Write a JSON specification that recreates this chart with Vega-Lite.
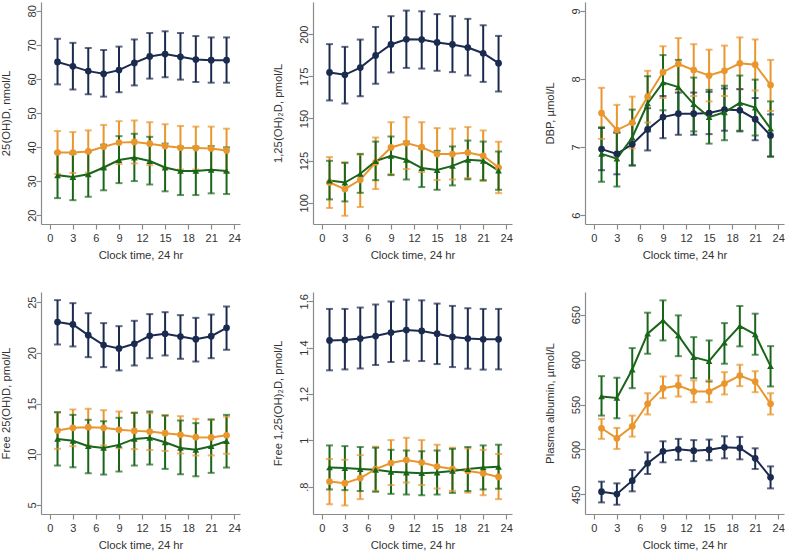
{
"$schema": "https://vega.github.io/schema/vega-lite/v6.json",
"padding": {"left": 0, "top": 2, "right": 0, "bottom": 0},
"columns": 3,
"spacing": {"row": 31, "column": 31},
"config": {
 "font": "Liberation Sans",
 "view": {"stroke": null},
 "axis": {"grid": false, "domainColor": "#8a8a8a", "tickColor": "#8a8a8a", "tickSize": 5, "labelColor": "#333333", "titleColor": "#333333", "labelFontSize": 11, "titleFontSize": 11.3, "titleFontWeight": "normal", "domainWidth": 1.2, "tickWidth": 1.2, "labelOverlap": false, "labelFlush": false},
 "axisY": {"labelAngle": -90, "labelAlign": "center", "labelBaseline": "alphabetic", "labelPadding": 1, "minExtent": 20, "maxExtent": 20, "titlePadding": 10},
 "axisX": {"labelPadding": 3, "titlePadding": 6}
},
"datasets": {
 "p1": [
  {"t":1,"g":"A","v":65.0,"lo":58.4,"hi":71.8},{"t":3,"g":"A","v":63.7,"lo":56.9,"hi":70.6},{"t":5,"g":"A","v":62.3,"lo":55.5,"hi":69.1},{"t":7,"g":"A","v":61.5,"lo":54.8,"hi":68.5},{"t":9,"g":"A","v":62.6,"lo":56.1,"hi":69.5},{"t":11,"g":"A","v":64.7,"lo":58.1,"hi":71.6},{"t":13,"g":"A","v":66.6,"lo":60.1,"hi":73.5},{"t":15,"g":"A","v":67.3,"lo":60.5,"hi":74.0},{"t":17,"g":"A","v":66.5,"lo":59.8,"hi":73.5},{"t":19,"g":"A","v":65.7,"lo":59.1,"hi":72.6},{"t":21,"g":"A","v":65.5,"lo":58.9,"hi":72.2},{"t":23,"g":"A","v":65.5,"lo":58.9,"hi":72.2},
  {"t":1,"g":"B","v":38.4,"lo":32.1,"hi":44.7},{"t":3,"g":"B","v":38.4,"lo":32.4,"hi":44.4},{"t":5,"g":"B","v":38.7,"lo":32.5,"hi":44.9},{"t":7,"g":"B","v":40.1,"lo":33.7,"hi":46.5},{"t":9,"g":"B","v":41.3,"lo":35.0,"hi":47.6},{"t":11,"g":"B","v":41.5,"lo":35.2,"hi":47.8},{"t":13,"g":"B","v":41.0,"lo":34.7,"hi":47.3},{"t":15,"g":"B","v":40.3,"lo":33.9,"hi":46.7},{"t":17,"g":"B","v":39.8,"lo":33.4,"hi":46.2},{"t":19,"g":"B","v":39.7,"lo":33.4,"hi":46.0},{"t":21,"g":"B","v":39.6,"lo":33.2,"hi":46.0},{"t":23,"g":"B","v":39.0,"lo":32.6,"hi":45.4},
  {"t":1,"g":"C","v":31.7,"lo":25.0,"hi":38.4},{"t":3,"g":"C","v":31.2,"lo":24.4,"hi":38.0},{"t":5,"g":"C","v":32.0,"lo":25.4,"hi":38.6},{"t":7,"g":"C","v":34.0,"lo":27.3,"hi":40.7},{"t":9,"g":"C","v":36.2,"lo":29.4,"hi":43.2},{"t":11,"g":"C","v":36.9,"lo":30.0,"hi":43.9},{"t":13,"g":"C","v":35.9,"lo":29.0,"hi":43.0},{"t":15,"g":"C","v":34.0,"lo":27.0,"hi":41.0},{"t":17,"g":"C","v":33.0,"lo":25.9,"hi":40.1},{"t":19,"g":"C","v":33.0,"lo":25.9,"hi":40.1},{"t":21,"g":"C","v":33.3,"lo":26.4,"hi":40.3},{"t":23,"g":"C","v":33.0,"lo":26.2,"hi":39.9}
 ],
 "p2": [
  {"t":1,"g":"A","v":177.3,"lo":160.7,"hi":194.1},{"t":3,"g":"A","v":175.9,"lo":158.9,"hi":192.5},{"t":5,"g":"A","v":180.2,"lo":163.2,"hi":196.8},{"t":7,"g":"A","v":187.4,"lo":170.6,"hi":204.3},{"t":9,"g":"A","v":193.9,"lo":177.3,"hi":210.7},{"t":11,"g":"A","v":197.0,"lo":180.0,"hi":214.0},{"t":13,"g":"A","v":196.8,"lo":179.6,"hi":213.6},{"t":15,"g":"A","v":195.1,"lo":178.3,"hi":211.9},{"t":17,"g":"A","v":193.9,"lo":177.5,"hi":210.7},{"t":19,"g":"A","v":192.1,"lo":175.5,"hi":209.1},{"t":21,"g":"A","v":188.7,"lo":171.7,"hi":205.3},{"t":23,"g":"A","v":182.8,"lo":166.0,"hi":199.0},
  {"t":1,"g":"B","v":112.0,"lo":96.9,"hi":127.1},{"t":3,"g":"B","v":108.1,"lo":92.3,"hi":123.9},{"t":5,"g":"B","v":113.6,"lo":97.5,"hi":128.5},{"t":7,"g":"B","v":123.9,"lo":108.1,"hi":138.7},{"t":9,"g":"B","v":132.8,"lo":117.0,"hi":147.8},{"t":11,"g":"B","v":135.4,"lo":120.0,"hi":150.8},{"t":13,"g":"B","v":133.0,"lo":118.2,"hi":147.8},{"t":15,"g":"B","v":128.9,"lo":113.5,"hi":144.3},{"t":17,"g":"B","v":128.9,"lo":113.8,"hi":144.0},{"t":19,"g":"B","v":129.8,"lo":114.7,"hi":144.9},{"t":21,"g":"B","v":127.9,"lo":112.9,"hi":142.9},{"t":23,"g":"B","v":120.9,"lo":105.7,"hi":136.2},
  {"t":1,"g":"C","v":113.2,"lo":102.0,"hi":124.9},{"t":3,"g":"C","v":112.0,"lo":100.8,"hi":123.7},{"t":5,"g":"C","v":117.2,"lo":105.9,"hi":129.0},{"t":7,"g":"C","v":124.7,"lo":113.4,"hi":136.3},{"t":9,"g":"C","v":127.9,"lo":116.4,"hi":139.3},{"t":11,"g":"C","v":125.5,"lo":113.8,"hi":136.3},{"t":13,"g":"C","v":120.6,"lo":109.3,"hi":132.2},{"t":15,"g":"C","v":119.4,"lo":107.7,"hi":130.8},{"t":17,"g":"C","v":121.9,"lo":110.3,"hi":133.4},{"t":19,"g":"C","v":125.5,"lo":113.9,"hi":136.9},{"t":21,"g":"C","v":124.9,"lo":113.4,"hi":136.3},{"t":23,"g":"C","v":119.1,"lo":107.7,"hi":130.4}
 ],
 "p3": [
  {"t":1,"g":"A","v":6.97,"lo":6.66,"hi":7.28},{"t":3,"g":"A","v":6.90,"lo":6.60,"hi":7.21},{"t":5,"g":"A","v":7.04,"lo":6.73,"hi":7.35},{"t":7,"g":"A","v":7.26,"lo":6.95,"hi":7.57},{"t":9,"g":"A","v":7.44,"lo":7.13,"hi":7.75},{"t":11,"g":"A","v":7.49,"lo":7.18,"hi":7.80},{"t":13,"g":"A","v":7.49,"lo":7.18,"hi":7.80},{"t":15,"g":"A","v":7.50,"lo":7.19,"hi":7.81},{"t":17,"g":"A","v":7.55,"lo":7.24,"hi":7.86},{"t":19,"g":"A","v":7.54,"lo":7.23,"hi":7.85},{"t":21,"g":"A","v":7.41,"lo":7.10,"hi":7.72},{"t":23,"g":"A","v":7.17,"lo":6.86,"hi":7.48},
  {"t":1,"g":"B","v":7.50,"lo":7.12,"hi":7.87},{"t":3,"g":"B","v":7.25,"lo":6.88,"hi":7.62},{"t":5,"g":"B","v":7.36,"lo":6.98,"hi":7.74},{"t":7,"g":"B","v":7.74,"lo":7.36,"hi":8.12},{"t":9,"g":"B","v":8.10,"lo":7.72,"hi":8.48},{"t":11,"g":"B","v":8.22,"lo":7.84,"hi":8.60},{"t":13,"g":"B","v":8.13,"lo":7.75,"hi":8.51},{"t":15,"g":"B","v":8.05,"lo":7.67,"hi":8.43},{"t":17,"g":"B","v":8.12,"lo":7.75,"hi":8.49},{"t":19,"g":"B","v":8.23,"lo":7.85,"hi":8.61},{"t":21,"g":"B","v":8.21,"lo":7.83,"hi":8.58},{"t":23,"g":"B","v":7.91,"lo":7.53,"hi":8.28},
  {"t":1,"g":"C","v":6.90,"lo":6.49,"hi":7.29},{"t":3,"g":"C","v":6.83,"lo":6.42,"hi":7.22},{"t":5,"g":"C","v":7.14,"lo":6.73,"hi":7.55},{"t":7,"g":"C","v":7.64,"lo":7.23,"hi":8.04},{"t":9,"g":"C","v":7.95,"lo":7.54,"hi":8.35},{"t":11,"g":"C","v":7.88,"lo":7.48,"hi":8.28},{"t":13,"g":"C","v":7.63,"lo":7.23,"hi":8.02},{"t":15,"g":"C","v":7.44,"lo":7.05,"hi":7.84},{"t":17,"g":"C","v":7.51,"lo":7.10,"hi":7.90},{"t":19,"g":"C","v":7.65,"lo":7.24,"hi":8.05},{"t":21,"g":"C","v":7.58,"lo":7.17,"hi":7.99},{"t":23,"g":"C","v":7.27,"lo":6.86,"hi":7.67}
 ],
 "p4": [
  {"t":1,"g":"A","v":23.03,"lo":20.82,"hi":25.20},{"t":3,"g":"A","v":22.80,"lo":20.63,"hi":24.90},{"t":5,"g":"A","v":21.74,"lo":19.57,"hi":23.91},{"t":7,"g":"A","v":20.76,"lo":18.59,"hi":22.93},{"t":9,"g":"A","v":20.43,"lo":18.26,"hi":22.63},{"t":11,"g":"A","v":20.89,"lo":18.75,"hi":23.16},{"t":13,"g":"A","v":21.68,"lo":19.47,"hi":23.82},{"t":15,"g":"A","v":21.88,"lo":19.74,"hi":24.01},{"t":17,"g":"A","v":21.61,"lo":19.41,"hi":23.72},{"t":19,"g":"A","v":21.35,"lo":19.14,"hi":23.45},{"t":21,"g":"A","v":21.64,"lo":19.47,"hi":23.78},{"t":23,"g":"A","v":22.47,"lo":20.30,"hi":24.57},
  {"t":1,"g":"B","v":12.33,"lo":10.53,"hi":14.13},{"t":3,"g":"B","v":12.60,"lo":10.79,"hi":14.41},{"t":5,"g":"B","v":12.66,"lo":10.85,"hi":14.48},{"t":7,"g":"B","v":12.60,"lo":10.86,"hi":14.34},{"t":9,"g":"B","v":12.40,"lo":10.59,"hi":14.21},{"t":11,"g":"B","v":12.30,"lo":10.50,"hi":14.10},{"t":13,"g":"B","v":12.23,"lo":10.41,"hi":14.05},{"t":15,"g":"B","v":12.07,"lo":10.32,"hi":13.82},{"t":17,"g":"B","v":11.91,"lo":10.07,"hi":13.75},{"t":19,"g":"B","v":11.68,"lo":9.87,"hi":13.49},{"t":21,"g":"B","v":11.65,"lo":9.88,"hi":13.42},{"t":23,"g":"B","v":11.87,"lo":10.04,"hi":13.70},
  {"t":1,"g":"C","v":11.51,"lo":8.88,"hi":14.14},{"t":3,"g":"C","v":11.32,"lo":8.71,"hi":13.88},{"t":5,"g":"C","v":10.79,"lo":8.12,"hi":13.39},{"t":7,"g":"C","v":10.62,"lo":7.99,"hi":13.25},{"t":9,"g":"C","v":10.92,"lo":8.29,"hi":13.59},{"t":11,"g":"C","v":11.51,"lo":8.88,"hi":14.08},{"t":13,"g":"C","v":11.61,"lo":8.98,"hi":14.21},{"t":15,"g":"C","v":11.18,"lo":8.55,"hi":13.82},{"t":17,"g":"C","v":10.62,"lo":8.02,"hi":13.32},{"t":19,"g":"C","v":10.43,"lo":7.82,"hi":13.06},{"t":21,"g":"C","v":10.79,"lo":8.16,"hi":13.42},{"t":23,"g":"C","v":11.28,"lo":8.68,"hi":13.88}
 ],
 "p5": [
  {"t":1,"g":"A","v":1.431,"lo":1.302,"hi":1.567},{"t":3,"g":"A","v":1.433,"lo":1.306,"hi":1.567},{"t":5,"g":"A","v":1.439,"lo":1.310,"hi":1.573},{"t":7,"g":"A","v":1.450,"lo":1.325,"hi":1.586},{"t":9,"g":"A","v":1.465,"lo":1.338,"hi":1.599},{"t":11,"g":"A","v":1.476,"lo":1.343,"hi":1.607},{"t":13,"g":"A","v":1.472,"lo":1.342,"hi":1.604},{"t":15,"g":"A","v":1.460,"lo":1.329,"hi":1.590},{"t":17,"g":"A","v":1.446,"lo":1.316,"hi":1.580},{"t":19,"g":"A","v":1.439,"lo":1.309,"hi":1.570},{"t":21,"g":"A","v":1.436,"lo":1.305,"hi":1.567},{"t":23,"g":"A","v":1.436,"lo":1.306,"hi":1.567},
  {"t":1,"g":"B","v":0.822,"lo":0.724,"hi":0.919},{"t":3,"g":"B","v":0.815,"lo":0.719,"hi":0.916},{"t":5,"g":"B","v":0.837,"lo":0.746,"hi":0.936},{"t":7,"g":"B","v":0.876,"lo":0.782,"hi":0.972},{"t":9,"g":"B","v":0.902,"lo":0.807,"hi":1.001},{"t":11,"g":"B","v":0.915,"lo":0.818,"hi":1.011},{"t":13,"g":"B","v":0.904,"lo":0.807,"hi":1.001},{"t":15,"g":"B","v":0.887,"lo":0.792,"hi":0.981},{"t":17,"g":"B","v":0.876,"lo":0.782,"hi":0.968},{"t":19,"g":"B","v":0.868,"lo":0.774,"hi":0.965},{"t":21,"g":"B","v":0.858,"lo":0.763,"hi":0.959},{"t":23,"g":"B","v":0.842,"lo":0.746,"hi":0.941},
  {"t":1,"g":"C","v":0.883,"lo":0.788,"hi":0.978},{"t":3,"g":"C","v":0.880,"lo":0.785,"hi":0.975},{"t":5,"g":"C","v":0.876,"lo":0.781,"hi":0.971},{"t":7,"g":"C","v":0.873,"lo":0.778,"hi":0.968},{"t":9,"g":"C","v":0.864,"lo":0.769,"hi":0.959},{"t":11,"g":"C","v":0.861,"lo":0.766,"hi":0.956},{"t":13,"g":"C","v":0.858,"lo":0.763,"hi":0.953},{"t":15,"g":"C","v":0.861,"lo":0.766,"hi":0.956},{"t":17,"g":"C","v":0.868,"lo":0.773,"hi":0.963},{"t":19,"g":"C","v":0.876,"lo":0.781,"hi":0.971},{"t":21,"g":"C","v":0.883,"lo":0.788,"hi":0.978},{"t":23,"g":"C","v":0.886,"lo":0.791,"hi":0.981}
 ],
 "p6": [
  {"t":1,"g":"A","v":453.0,"lo":441.1,"hi":464.2},{"t":3,"g":"A","v":450.4,"lo":438.5,"hi":462.3},{"t":5,"g":"A","v":465.3,"lo":453.4,"hi":477.2},{"t":7,"g":"A","v":484.6,"lo":472.7,"hi":496.8},{"t":9,"g":"A","v":497.9,"lo":485.7,"hi":509.1},{"t":11,"g":"A","v":500.2,"lo":488.4,"hi":511.8},{"t":13,"g":"A","v":498.7,"lo":487.0,"hi":510.4},{"t":15,"g":"A","v":499.8,"lo":488.0,"hi":511.0},{"t":17,"g":"A","v":502.4,"lo":490.1,"hi":514.7},{"t":19,"g":"A","v":501.7,"lo":489.0,"hi":514.0},{"t":21,"g":"A","v":490.1,"lo":478.3,"hi":501.3},{"t":23,"g":"A","v":469.0,"lo":456.7,"hi":481.2},
  {"t":1,"g":"B","v":523.6,"lo":511.8,"hi":534.1},{"t":3,"g":"B","v":512.4,"lo":500.6,"hi":524.0},{"t":5,"g":"B","v":525.8,"lo":514.3,"hi":537.7},{"t":7,"g":"B","v":550.8,"lo":538.9,"hi":562.6},{"t":9,"g":"B","v":568.2,"lo":557.0,"hi":581.2},{"t":11,"g":"B","v":571.2,"lo":558.9,"hi":582.3},{"t":13,"g":"B","v":564.5,"lo":552.6,"hi":576.8},{"t":15,"g":"B","v":564.5,"lo":552.6,"hi":576.8},{"t":17,"g":"B","v":573.4,"lo":561.2,"hi":586.0},{"t":19,"g":"B","v":582.3,"lo":570.4,"hi":594.3},{"t":21,"g":"B","v":575.6,"lo":563.7,"hi":587.1},{"t":23,"g":"B","v":550.8,"lo":538.9,"hi":562.6},
  {"t":1,"g":"C","v":559.0,"lo":537.7,"hi":581.6},{"t":3,"g":"C","v":557.4,"lo":534.7,"hi":579.8},{"t":5,"g":"C","v":589.0,"lo":568.2,"hi":612.8},{"t":7,"g":"C","v":628.8,"lo":606.5,"hi":652.2},{"t":9,"g":"C","v":643.6,"lo":621.3,"hi":665.9},{"t":11,"g":"C","v":626.9,"lo":603.8,"hi":649.2},{"t":13,"g":"C","v":602.7,"lo":579.3,"hi":625.0},{"t":15,"g":"C","v":598.3,"lo":575.6,"hi":621.3},{"t":17,"g":"C","v":618.8,"lo":595.4,"hi":640.6},{"t":19,"g":"C","v":637.3,"lo":614.7,"hi":659.6},{"t":21,"g":"C","v":628.0,"lo":605.4,"hi":651.1},{"t":23,"g":"C","v":592.7,"lo":570.1,"hi":615.0}
 ]
},
"concat": [
 {"width":199,"height":222,"data":{"name":"p1"},
  "encoding":{"x":{"field":"t","type":"quantitative","scale":{"domain":[-1.15,24.75],"nice":false,"zero":false},"axis":{"values":[0,3,6,9,12,15,18,21,24],"title":"Clock time, 24 hr"}},
   "y":{"field":"v","type":"quantitative","scale":{"domain":[17.4,82.6],"nice":false,"zero":false},"axis":{"values":[20,30,40,50,60,70,80],"format":"d","labelOverlap":false,"title":"25(OH)D, nmol/L"}},
   "color":{"field":"g","type":"nominal","scale":{"domain":["A","B","C"],"range":["#1b2a4f","#e8962d","#19661b"]},"legend":null}},
  "layer":[
   {"mark":{"type":"rule","strokeWidth":2},"encoding":{"y":{"field":"lo","type":"quantitative","axis":{"values":[20,30,40,50,60,70,80],"format":"d","labelOverlap":false,"title":"25(OH)D, nmol/L"}},"y2":{"field":"hi"}}},
   {"mark":{"type":"tick","orient":"horizontal","size":7,"thickness":2},"encoding":{"y":{"field":"lo","type":"quantitative","axis":{"values":[20,30,40,50,60,70,80],"format":"d","labelOverlap":false,"title":"25(OH)D, nmol/L"}}}},
   {"mark":{"type":"tick","orient":"horizontal","size":7,"thickness":2},"encoding":{"y":{"field":"hi","type":"quantitative","axis":{"values":[20,30,40,50,60,70,80],"format":"d","labelOverlap":false,"title":"25(OH)D, nmol/L"}}}},
   {"mark":{"type":"line","strokeWidth":2}},
   {"mark":{"type":"point","filled":true,"size":45,"opacity":1},"encoding":{"shape":{"field":"g","type":"nominal","scale":{"domain":["A","B","C"],"range":["circle","circle","triangle-up"]},"legend":null}}}
  ]},
 {"width":199,"height":222,"data":{"name":"p2"},
  "encoding":{"x":{"field":"t","type":"quantitative","scale":{"domain":[-1.15,24.75],"nice":false,"zero":false},"axis":{"values":[0,3,6,9,12,15,18,21,24],"title":"Clock time, 24 hr"}},
   "color":{"field":"g","type":"nominal","scale":{"domain":["A","B","C"],"range":["#1b2a4f","#e8962d","#19661b"]},"legend":null}},
  "layer":[
   {"mark":{"type":"rule","strokeWidth":2},"encoding":{"y":{"field":"lo","type":"quantitative","scale":{"domain":[87.4,219.1],"nice":false,"zero":false},"axis":{"values":[100,125,150,175,200],"format":"d","title":"1,25(OH)₂D, pmol/L"}},"y2":{"field":"hi"}}},
   {"mark":{"type":"tick","orient":"horizontal","size":7,"thickness":2},"encoding":{"y":{"field":"lo","type":"quantitative","title":"1,25(OH)₂D, pmol/L"}}},
   {"mark":{"type":"tick","orient":"horizontal","size":7,"thickness":2},"encoding":{"y":{"field":"hi","type":"quantitative","title":"1,25(OH)₂D, pmol/L"}}},
   {"mark":{"type":"line","strokeWidth":2},"encoding":{"y":{"field":"v","type":"quantitative","title":"1,25(OH)₂D, pmol/L"}}},
   {"mark":{"type":"point","filled":true,"size":45,"opacity":1},"encoding":{"y":{"field":"v","type":"quantitative","title":"1,25(OH)₂D, pmol/L"},"shape":{"field":"g","type":"nominal","scale":{"domain":["A","B","C"],"range":["circle","circle","triangle-up"]},"legend":null}}}
  ]},
 {"width":199,"height":222,"data":{"name":"p3"},
  "encoding":{"x":{"field":"t","type":"quantitative","scale":{"domain":[-1.15,24.75],"nice":false,"zero":false},"axis":{"values":[0,3,6,9,12,15,18,21,24],"title":"Clock time, 24 hr"}},
   "color":{"field":"g","type":"nominal","scale":{"domain":["A","B","C"],"range":["#1b2a4f","#e8962d","#19661b"]},"legend":null}},
  "layer":[
   {"mark":{"type":"rule","strokeWidth":2},"encoding":{"y":{"field":"lo","type":"quantitative","scale":{"domain":[5.87,9.13],"nice":false,"zero":false},"axis":{"values":[6,7,8,9],"format":"d","title":"DBP, µmol/L"}},"y2":{"field":"hi"}}},
   {"mark":{"type":"tick","orient":"horizontal","size":7,"thickness":2},"encoding":{"y":{"field":"lo","type":"quantitative","title":"DBP, µmol/L"}}},
   {"mark":{"type":"tick","orient":"horizontal","size":7,"thickness":2},"encoding":{"y":{"field":"hi","type":"quantitative","title":"DBP, µmol/L"}}},
   {"mark":{"type":"line","strokeWidth":2},"encoding":{"y":{"field":"v","type":"quantitative","title":"DBP, µmol/L"}}},
   {"mark":{"type":"point","filled":true,"size":45,"opacity":1},"encoding":{"y":{"field":"v","type":"quantitative","title":"DBP, µmol/L"},"shape":{"field":"g","type":"nominal","scale":{"domain":["A","B","C"],"range":["circle","circle","triangle-up"]},"legend":null}}}
  ]},
 {"width":199,"height":222,"data":{"name":"p4"},
  "encoding":{"x":{"field":"t","type":"quantitative","scale":{"domain":[-1.15,24.75],"nice":false,"zero":false},"axis":{"values":[0,3,6,9,12,15,18,21,24],"title":"Clock time, 24 hr"}},
   "color":{"field":"g","type":"nominal","scale":{"domain":["A","B","C"],"range":["#1b2a4f","#e8962d","#19661b"]},"legend":null}},
  "layer":[
   {"mark":{"type":"rule","strokeWidth":2},"encoding":{"y":{"field":"lo","type":"quantitative","scale":{"domain":[4.1,26.0],"nice":false,"zero":false},"axis":{"values":[5,10,15,20,25],"format":"d","title":"Free 25(OH)D, pmol/L"}},"y2":{"field":"hi"}}},
   {"mark":{"type":"tick","orient":"horizontal","size":7,"thickness":2},"encoding":{"y":{"field":"lo","type":"quantitative","title":"Free 25(OH)D, pmol/L"}}},
   {"mark":{"type":"tick","orient":"horizontal","size":7,"thickness":2},"encoding":{"y":{"field":"hi","type":"quantitative","title":"Free 25(OH)D, pmol/L"}}},
   {"mark":{"type":"line","strokeWidth":2},"encoding":{"y":{"field":"v","type":"quantitative","title":"Free 25(OH)D, pmol/L"}}},
   {"mark":{"type":"point","filled":true,"size":45,"opacity":1},"encoding":{"y":{"field":"v","type":"quantitative","title":"Free 25(OH)D, pmol/L"},"shape":{"field":"g","type":"nominal","scale":{"domain":["A","B","C"],"range":["circle","circle","triangle-up"]},"legend":null}}}
  ]},
 {"width":199,"height":222,"data":{"name":"p5"},
  "encoding":{"x":{"field":"t","type":"quantitative","scale":{"domain":[-1.15,24.75],"nice":false,"zero":false},"axis":{"values":[0,3,6,9,12,15,18,21,24],"title":"Clock time, 24 hr"}},
   "color":{"field":"g","type":"nominal","scale":{"domain":["A","B","C"],"range":["#1b2a4f","#e8962d","#19661b"]},"legend":null}},
  "layer":[
   {"mark":{"type":"rule","strokeWidth":2},"encoding":{"y":{"field":"lo","type":"quantitative","scale":{"domain":[0.682,1.64],"nice":false,"zero":false},"axis":{"values":[0.8,1,1.2,1.4,1.6],"labelExpr":"datum.value < 0.9 ? '.8' : format(datum.value, '~g')","title":"Free 1,25(OH)₂D, pmol/L"}},"y2":{"field":"hi"}}},
   {"mark":{"type":"tick","orient":"horizontal","size":7,"thickness":2},"encoding":{"y":{"field":"lo","type":"quantitative","title":"Free 1,25(OH)₂D, pmol/L"}}},
   {"mark":{"type":"tick","orient":"horizontal","size":7,"thickness":2},"encoding":{"y":{"field":"hi","type":"quantitative","title":"Free 1,25(OH)₂D, pmol/L"}}},
   {"mark":{"type":"line","strokeWidth":2},"encoding":{"y":{"field":"v","type":"quantitative","title":"Free 1,25(OH)₂D, pmol/L"}}},
   {"mark":{"type":"point","filled":true,"size":45,"opacity":1},"encoding":{"y":{"field":"v","type":"quantitative","title":"Free 1,25(OH)₂D, pmol/L"},"shape":{"field":"g","type":"nominal","scale":{"domain":["A","B","C"],"range":["circle","circle","triangle-up"]},"legend":null}}}
  ]},
 {"width":199,"height":222,"data":{"name":"p6"},
  "encoding":{"x":{"field":"t","type":"quantitative","scale":{"domain":[-1.15,24.75],"nice":false,"zero":false},"axis":{"values":[0,3,6,9,12,15,18,21,24],"title":"Clock time, 24 hr"}},
   "color":{"field":"g","type":"nominal","scale":{"domain":["A","B","C"],"range":["#1b2a4f","#e8962d","#19661b"]},"legend":null}},
  "layer":[
   {"mark":{"type":"rule","strokeWidth":2},"encoding":{"y":{"field":"lo","type":"quantitative","scale":{"domain":[428.2,675.2],"nice":false,"zero":false},"axis":{"values":[450,500,550,600,650],"format":"d","title":"Plasma albumin, µmol/L"}},"y2":{"field":"hi"}}},
   {"mark":{"type":"tick","orient":"horizontal","size":7,"thickness":2},"encoding":{"y":{"field":"lo","type":"quantitative","title":"Plasma albumin, µmol/L"}}},
   {"mark":{"type":"tick","orient":"horizontal","size":7,"thickness":2},"encoding":{"y":{"field":"hi","type":"quantitative","title":"Plasma albumin, µmol/L"}}},
   {"mark":{"type":"line","strokeWidth":2},"encoding":{"y":{"field":"v","type":"quantitative","title":"Plasma albumin, µmol/L"}}},
   {"mark":{"type":"point","filled":true,"size":45,"opacity":1},"encoding":{"y":{"field":"v","type":"quantitative","title":"Plasma albumin, µmol/L"},"shape":{"field":"g","type":"nominal","scale":{"domain":["A","B","C"],"range":["circle","circle","triangle-up"]},"legend":null}}}
  ]}
]
}
